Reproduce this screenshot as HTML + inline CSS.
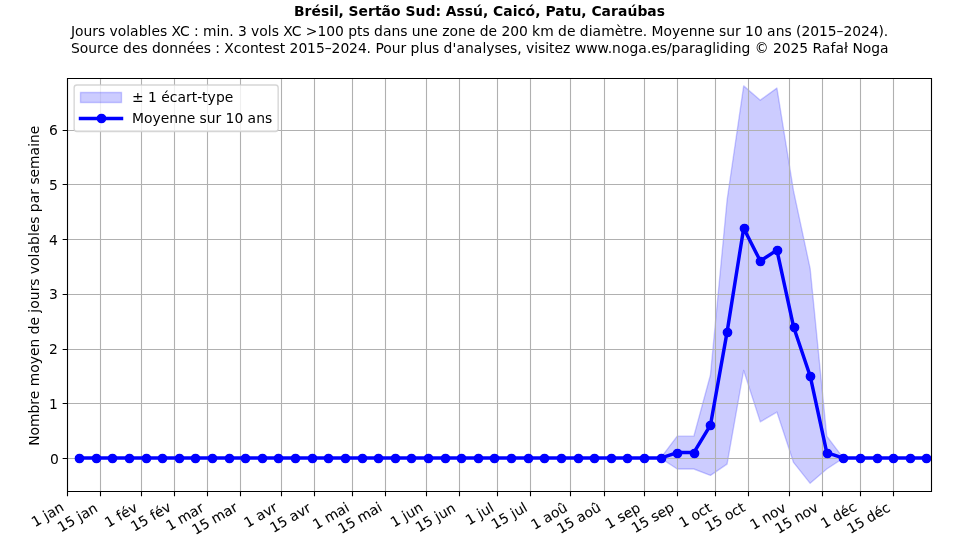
<!DOCTYPE html>
<html lang="fr"><head><meta charset="utf-8"><title>Brésil, Sertão Sud : jours volables XC</title>
<style>html,body{margin:0;padding:0;background:#fff;width:960px;height:540px;overflow:hidden}svg{display:block;will-change:transform}text[transform*="rotate(-30)"]{stroke:#000;stroke-width:.08px}</style>
</head><body>
<svg width="960" height="540" viewBox="0 0 960 540">
<defs><clipPath id="ax"><rect x="67.2" y="78" width="864" height="413"/></clipPath></defs>
<rect width="960" height="540" fill="#fff"/>
<path clip-path="url(#ax)" d="M79.07 458.05 L79.07 458.05 L95.68 458.05 L112.3 458.05 L128.91 458.05 L145.53 458.05 L162.15 458.05 L178.76 458.05 L195.38 458.05 L211.99 458.05 L228.61 458.05 L245.22 458.05 L261.84 458.05 L278.45 458.05 L295.07 458.05 L311.68 458.05 L328.3 458.05 L344.91 458.05 L361.53 458.05 L378.15 458.05 L394.76 458.05 L411.38 458.05 L427.99 458.05 L444.61 458.05 L461.22 458.05 L477.84 458.05 L494.45 458.05 L511.07 458.05 L527.68 458.05 L544.3 458.05 L560.91 458.05 L577.53 458.05 L594.15 458.05 L610.76 458.05 L627.38 458.05 L643.99 458.05 L660.61 458.05 L677.22 436.16 L693.84 436.16 L710.45 375.02 L727.07 200.27 L743.68 85.89 L760.3 100.17 L776.91 88.08 L793.53 190.97 L810.15 268.57 L826.76 436.16 L843.38 458.05 L859.99 458.05 L876.61 458.05 L893.22 458.05 L909.84 458.05 L926.45 458.05 L926.45 458.05 L909.84 458.05 L893.22 458.05 L876.61 458.05 L859.99 458.05 L843.38 458.05 L826.76 469 L810.15 483.34 L793.53 462.43 L776.91 412.08 L760.3 421.87 L743.68 370.48 L727.07 464.07 L710.45 475.4 L693.84 469 L677.22 469 L660.61 458.05 L643.99 458.05 L627.38 458.05 L610.76 458.05 L594.15 458.05 L577.53 458.05 L560.91 458.05 L544.3 458.05 L527.68 458.05 L511.07 458.05 L494.45 458.05 L477.84 458.05 L461.22 458.05 L444.61 458.05 L427.99 458.05 L411.38 458.05 L394.76 458.05 L378.15 458.05 L361.53 458.05 L344.91 458.05 L328.3 458.05 L311.68 458.05 L295.07 458.05 L278.45 458.05 L261.84 458.05 L245.22 458.05 L228.61 458.05 L211.99 458.05 L195.38 458.05 L178.76 458.05 L162.15 458.05 L145.53 458.05 L128.91 458.05 L112.3 458.05 L95.68 458.05 L79.07 458.05Z" fill="#00f" fill-opacity="0.2" stroke="#00f" stroke-opacity="0.2" stroke-width="1.389" stroke-linejoin="round"/>
<path clip-path="url(#ax)" d="M67.5 78V491M100.5 78V491M141.5 78V491M174.5 78V491M207.5 78V491M240.5 78V491M281.5 78V491M314.5 78V491M352.5 78V491M385.5 78V491M426.5 78V491M459.5 78V491M497.5 78V491M530.5 78V491M570.5 78V491M604.5 78V491M644.5 78V491M677.5 78V491M715.5 78V491M748.5 78V491M789.5 78V491M822.5 78V491M860.5 78V491M893.5 78V491M67.2 458.5H931.2M67.2 403.5H931.2M67.2 349.5H931.2M67.2 294.5H931.2M67.2 239.5H931.2M67.2 184.5H931.2M67.2 130.5H931.2" fill="none" stroke="#b0b0b0" stroke-width="1.111"/>
<path clip-path="url(#ax)" d="M79.07 458.05 L95.68 458.05 L112.3 458.05 L128.91 458.05 L145.53 458.05 L162.15 458.05 L178.76 458.05 L195.38 458.05 L211.99 458.05 L228.61 458.05 L245.22 458.05 L261.84 458.05 L278.45 458.05 L295.07 458.05 L311.68 458.05 L328.3 458.05 L344.91 458.05 L361.53 458.05 L378.15 458.05 L394.76 458.05 L411.38 458.05 L427.99 458.05 L444.61 458.05 L461.22 458.05 L477.84 458.05 L494.45 458.05 L511.07 458.05 L527.68 458.05 L544.3 458.05 L560.91 458.05 L577.53 458.05 L594.15 458.05 L610.76 458.05 L627.38 458.05 L643.99 458.05 L660.61 458.05 L677.22 452.58 L693.84 452.58 L710.45 425.21 L727.07 332.17 L743.68 228.18 L760.3 261.02 L776.91 250.08 L793.53 326.7 L810.15 375.96 L826.76 452.58 L843.38 458.05 L859.99 458.05 L876.61 458.05 L893.22 458.05 L909.84 458.05 L926.45 458.05" fill="none" stroke="#00f" stroke-width="3.472" stroke-linejoin="round" stroke-linecap="square"/>
<g fill="#00f" stroke="#00f" stroke-width="1.389"><circle cx="79.5" cy="458.5" r="4.167"/><circle cx="96.5" cy="458.5" r="4.167"/><circle cx="112.5" cy="458.5" r="4.167"/><circle cx="129.5" cy="458.5" r="4.167"/><circle cx="146.5" cy="458.5" r="4.167"/><circle cx="162.5" cy="458.5" r="4.167"/><circle cx="179.5" cy="458.5" r="4.167"/><circle cx="195.5" cy="458.5" r="4.167"/><circle cx="212.5" cy="458.5" r="4.167"/><circle cx="229.5" cy="458.5" r="4.167"/><circle cx="245.5" cy="458.5" r="4.167"/><circle cx="262.5" cy="458.5" r="4.167"/><circle cx="278.5" cy="458.5" r="4.167"/><circle cx="295.5" cy="458.5" r="4.167"/><circle cx="312.5" cy="458.5" r="4.167"/><circle cx="328.5" cy="458.5" r="4.167"/><circle cx="345.5" cy="458.5" r="4.167"/><circle cx="362.5" cy="458.5" r="4.167"/><circle cx="378.5" cy="458.5" r="4.167"/><circle cx="395.5" cy="458.5" r="4.167"/><circle cx="411.5" cy="458.5" r="4.167"/><circle cx="428.5" cy="458.5" r="4.167"/><circle cx="445.5" cy="458.5" r="4.167"/><circle cx="461.5" cy="458.5" r="4.167"/><circle cx="478.5" cy="458.5" r="4.167"/><circle cx="494.5" cy="458.5" r="4.167"/><circle cx="511.5" cy="458.5" r="4.167"/><circle cx="528.5" cy="458.5" r="4.167"/><circle cx="544.5" cy="458.5" r="4.167"/><circle cx="561.5" cy="458.5" r="4.167"/><circle cx="578.5" cy="458.5" r="4.167"/><circle cx="594.5" cy="458.5" r="4.167"/><circle cx="611.5" cy="458.5" r="4.167"/><circle cx="627.5" cy="458.5" r="4.167"/><circle cx="644.5" cy="458.5" r="4.167"/><circle cx="661.5" cy="458.5" r="4.167"/><circle cx="677.5" cy="453.5" r="4.167"/><circle cx="694.5" cy="453.5" r="4.167"/><circle cx="710.5" cy="425.5" r="4.167"/><circle cx="727.5" cy="332.5" r="4.167"/><circle cx="744.5" cy="228.5" r="4.167"/><circle cx="760.5" cy="261.5" r="4.167"/><circle cx="777.5" cy="250.5" r="4.167"/><circle cx="794.5" cy="327.5" r="4.167"/><circle cx="810.5" cy="376.5" r="4.167"/><circle cx="827.5" cy="453.5" r="4.167"/><circle cx="843.5" cy="458.5" r="4.167"/><circle cx="860.5" cy="458.5" r="4.167"/><circle cx="877.5" cy="458.5" r="4.167"/><circle cx="893.5" cy="458.5" r="4.167"/><circle cx="910.5" cy="458.5" r="4.167"/><circle cx="926.5" cy="458.5" r="4.167"/></g>
<path d="M67.5 491.5V78.5M931.5 491.5V78.5M67.5 491.5H931.5M67.5 78.5H931.5" fill="none" stroke="#000" stroke-width="1.111" stroke-linecap="square"/>
<path d="M67.5 491.5v4.861M100.5 491.5v4.861M141.5 491.5v4.861M174.5 491.5v4.861M207.5 491.5v4.861M240.5 491.5v4.861M281.5 491.5v4.861M314.5 491.5v4.861M352.5 491.5v4.861M385.5 491.5v4.861M426.5 491.5v4.861M459.5 491.5v4.861M497.5 491.5v4.861M530.5 491.5v4.861M570.5 491.5v4.861M604.5 491.5v4.861M644.5 491.5v4.861M677.5 491.5v4.861M715.5 491.5v4.861M748.5 491.5v4.861M789.5 491.5v4.861M822.5 491.5v4.861M860.5 491.5v4.861M893.5 491.5v4.861M67.5 458.5h-4.861M67.5 403.5h-4.861M67.5 349.5h-4.861M67.5 294.5h-4.861M67.5 239.5h-4.861M67.5 184.5h-4.861M67.5 130.5h-4.861" fill="none" stroke="#000" stroke-width="1.111"/>
<g font-family="DejaVu Sans, Liberation Sans, sans-serif" font-size="13.8889" fill="#000">
<text transform="translate(34.96 527.31) rotate(-30)" x="0 8.88 13.25 17.25 25.88">1 jan</text>
<text transform="translate(61.12 532.44) rotate(-30)" x="0 8.88 17.62 22 26 34.62">15 jan</text>
<text transform="translate(108.22 527.75) rotate(-30)" x="0 8.88 13.25 18.25 26.75">1 fév</text>
<text transform="translate(134.37 531.87) rotate(-30)" x="0 8.88 17.62 22 27 35.5">15 fév</text>
<text transform="translate(169.38 531.06) rotate(-30)" x="0 8.88 13.25 26.75 35.38">1 mar</text>
<text transform="translate(195.53 534.94) rotate(-30)" x="0 8.88 17.62 22 35.5 44.12">15 mar</text>
<text transform="translate(247.51 527.94) rotate(-30)" x="0 8.88 13.25 21.88 30.12">1 avr</text>
<text transform="translate(273.41 533.06) rotate(-30)" x="0 8.88 17.62 22 30.62 38.88">15 avr</text>
<text transform="translate(316.29 529.87) rotate(-30)" x="0 8.88 13.25 26.75 35.38">1 mai</text>
<text transform="translate(341.45 534) rotate(-30)" x="0 8.88 17.62 22 35.5 44.12">15 mai</text>
<text transform="translate(394.02 527.62) rotate(-30)" x="0 8.88 13.25 17.25 26">1 jun</text>
<text transform="translate(418.93 532.5) rotate(-30)" x="0 8.88 17.62 22 26 34.75">15 jun</text>
<text transform="translate(468.95 525.44) rotate(-30)" x="0 8.88 13.25 17.25 26">1 jul</text>
<text transform="translate(494.86 529.56) rotate(-30)" x="0 8.88 17.62 22 26 34.75">15 jul</text>
<text transform="translate(534.53 530.06) rotate(-30)" x="0 8.88 13.25 21.88 30.38">1 aoû</text>
<text transform="translate(560.43 533.94) rotate(-30)" x="0 8.88 17.62 22 30.62 39.12">15 aoû</text>
<text transform="translate(608.8 529.37) rotate(-30)" x="0 8.88 13.25 20.38 28.88">1 sep</text>
<text transform="translate(634.95 533.25) rotate(-30)" x="0 8.88 17.62 22 29.12 37.62">15 sep</text>
<text transform="translate(682.5 527.94) rotate(-30)" x="0 8.88 13.25 21.75 29.38">1 oct</text>
<text transform="translate(708.4 532.06) rotate(-30)" x="0 8.88 17.62 22 30.5 38.12">15 oct</text>
<text transform="translate(753.47 530.12) rotate(-30)" x="0 8.88 13.25 22 30.5">1 nov</text>
<text transform="translate(778.38 534) rotate(-30)" x="0 8.88 17.62 22 30.75 39.25">15 nov</text>
<text transform="translate(824.37 528.87) rotate(-30)" x="0 8.88 13.25 22.12 30.62">1 déc</text>
<text transform="translate(850.52 534) rotate(-30)" x="0 8.88 17.62 22 30.88 39.38">15 déc</text>
<text x="58.73" y="463.55" text-anchor="end">0</text>
<text x="57.73" y="408.57" text-anchor="end">1</text>
<text x="57.73" y="353.59" text-anchor="end">2</text>
<text x="57.73" y="298.61" text-anchor="end">3</text>
<text x="57.73" y="244.63" text-anchor="end">4</text>
<text x="57.73" y="189.65" text-anchor="end">5</text>
<text x="57.73" y="134.67" text-anchor="end">6</text>
<text transform="translate(38.55 285.75) rotate(-90)" x="-160.12 -149.75 -141.25 -127.75 -118.88 -113.38 -104.88 -100.5 -87 -78.5 -70.25 -61.75 -53 -48.62 -39.75 -31.25 -26.88 -22.88 -14.38 -5.62 0.12 7.25 11.62 19.88 28.38 32.25 40.88 49.75 53.62 62.12 69.25 73.62 82.5 91.12 96.88 101.25 108.38 116.88 130.38 139 142.88 151.62">Nombre moyen de jours volables par semaine</text>
<text x="294 304.62 311.5 321 329.25 333.88 338.5 343.75 348.62 358.62 368.12 375 381.62 391.12 400.75 405.62 415.62 425.5 435.38 440.88 445.75 456.5 464.75 473 482.88 488.12 493 503.25 512.75 517.38 525.62 535.25 540.5 545.38 555.25 564.75 571.38 581.25 586.5 591.38 601.62 611.12 618 627.5 637.38 647.25 656.75" y="15.5" font-weight="bold">Brésil, Sertão Sud: Assú, Caicó, Patu, Caraúbas</text>
<text x="70.94 74.94 83.44 92.19 97.94 105.06 109.44 117.69 126.19 130.06 138.69 147.56 151.44 159.94 167.06 171.44 179.94 189.69 194.06 198.69 203.06 216.56 220.44 229.19 233.56 237.94 246.69 251.06 259.31 267.81 271.69 278.81 283.19 291.69 301.44 305.81 317.44 326.31 335.06 343.81 348.19 357.06 362.56 369.69 374.06 382.94 391.56 400.31 407.44 411.81 420.56 429.31 437.81 442.19 449.56 458.06 466.81 475.31 479.69 488.56 497.06 501.44 510.19 518.94 527.69 532.06 540.19 553.69 558.06 566.94 575.44 579.81 588.69 592.56 601.19 614.69 623.19 628.69 634.19 642.69 647.06 651.44 663.44 671.94 680.19 688.69 697.44 706.19 714.69 719.06 726.19 734.94 740.69 745.06 753.94 762.69 767.06 775.69 784.44 791.56 795.94 801.44 810.19 818.94 827.81 836.56 843.44 852.19 860.94 869.69 878.44 883.81" y="35.5">Jours volables XC : min. 3 vols XC &gt;100 pts dans une zone de 200 km de diamètre. Moyenne sur 10 ans (2015–2024).</text>
<text x="71 79.75 88.25 97 102.5 110.12 118.62 123 131.88 140.38 147.5 151.88 160.75 169.25 178 186.75 195.25 203.75 210.88 215.25 219.88 224.25 233.75 241.38 249.88 258.62 264.12 272.62 279.75 285.25 289.62 298.38 307.12 316 324.75 331.62 340.38 349.12 357.88 366.62 371 375.38 383.25 391.75 400.5 406.25 410.62 419.5 423.38 432.12 439.25 443.62 452.5 456.38 465 473.75 482.38 486.25 494.5 501.62 510.12 517.25 521.62 526 534.25 538.12 545.25 549.12 554.62 563.12 570.5 574.88 586.25 597.62 607.75 612.12 620.88 629.38 638.25 646.88 651.25 659.75 666.88 671.5 680.38 689 694.75 703.38 712.25 716.12 720 728.88 732.75 741.5 750.38 754.75 768.62 773 781.75 790.5 799.25 808 812.38 821.75 830.38 835.38 844 848 852.38 862.75 871.25 880.12" y="52.5">Source des données : Xcontest 2015–2024. Pour plus d'analyses, visitez www.noga.es/paragliding © 2025 Rafał Noga</text>
</g>
<path d="M 76.92 131.5 L 275.38 131.5 Q 278.16 131.5 278.16 128.72 L 278.16 87.72 Q 278.16 84.94 275.38 84.94 L 76.92 84.94 Q 74.14 84.94 74.14 87.72 L 74.14 128.72 Q 74.14 131.5 76.92 131.5 z" fill="#fff" fill-opacity="0.8" stroke="#ccc" stroke-opacity="0.8" stroke-width="1.389"/>
<path d="M80.5 92.5H121.5V102.5H80.5Z" fill="#00f" fill-opacity="0.2" stroke="#00f" stroke-opacity="0.2" stroke-width="1.389"/>
<path d="M80.5 118.5H121.5" fill="none" stroke="#00f" stroke-width="3.472" stroke-linecap="square"/>
<circle cx="101.5" cy="118.5" r="4.167" fill="#00f" stroke="#00f" stroke-width="1.389"/>
<g font-family="DejaVu Sans, Liberation Sans, sans-serif" font-size="13.8889" fill="#000">
<text x="132 143.62 148 156.88 161.25 169.75 177.38 186 191.75 197.25 202.12 207.62 215.88 224.75" y="101.5">± 1 écart-type</text>
<text x="132 144 152.5 160.75 169.25 178 186.75 195.25 199.62 206.75 215.5 221.25 225.62 234.5 243.25 247.62 256.25 265" y="122.69">Moyenne sur 10 ans</text>
</g>
</svg>
</body></html>
